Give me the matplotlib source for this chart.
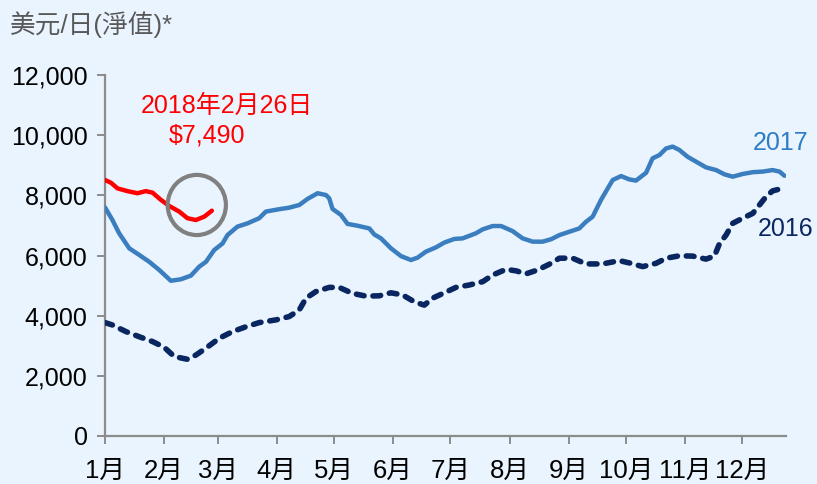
#!/usr/bin/env python3
import matplotlib

matplotlib.use("Agg")
import matplotlib.pyplot as plt
from matplotlib.patches import Ellipse

# day of year, value (US$/day, net)
DAYS_2017 = [0, 3.9, 7.4, 12.7, 17.9, 23.2, 28.4, 34.5, 39.8, 45.0, 49.4, 52.9, 57.2, 61.6,
             64.2, 69.4, 74.7, 80.8, 84.3, 91.3, 96.5, 101.8, 106.1, 111.4, 115.8, 117.5,
             119.2, 123.6, 127.1, 132.3, 138.5, 141.1, 144.6, 149.8, 155.1, 160.3, 163.8,
             168.2, 173.4, 177.8, 183.0, 187.4, 194.4, 197.9, 203.1, 207.5, 213.6, 218.8,
             224.1, 229.3, 233.7, 238.1, 243.3, 248.5, 252.0, 255.5, 259.9, 266.0, 270.4,
             274.7, 278.2, 283.5, 286.9, 290.5, 294.0, 297.4, 300.9, 305.3, 309.7, 314.9,
             320.2, 324.5, 328.9, 334.1, 339.4, 344.6, 349.8, 353.4, 356.0]
VALUES_2017 = [7600, 7180, 6740, 6240, 6020, 5790, 5520, 5160, 5210, 5330, 5630, 5790, 6180,
               6400, 6680, 6960, 7070, 7240, 7460, 7540, 7590, 7680, 7880, 8070, 8010, 7900,
               7550, 7350, 7050, 6990, 6900, 6700, 6570, 6240, 5980, 5850, 5930, 6130, 6270,
               6430, 6550, 6570, 6740, 6870, 6980, 6980, 6810, 6570, 6460, 6460, 6540, 6680,
               6790, 6900, 7120, 7290, 7850, 8510, 8640, 8530, 8490, 8750, 9230, 9340, 9560,
               9620, 9510, 9280, 9120, 8930, 8840, 8700, 8620, 8710, 8770, 8790, 8840, 8790,
               8650]

DAYS_2016 = [0, 3.9, 11.0, 17.9, 24.9, 31.0, 36.3, 43.2, 47.6, 52.9, 59.9, 66.8, 73.8, 80.8,
             89.6, 96.5, 101.8, 105.3, 110.5, 117.5, 122.7, 129.7, 136.7, 143.7, 149.8, 155.9,
             162.1, 167.3, 171.6, 177.8, 183.9, 190.9, 197.9, 203.1, 210.1, 215.4, 220.6,
             226.7, 232.8, 238.1, 245.0, 252.0, 260.7, 269.5, 275.6, 281.7, 288.7, 294.0,
             300.9, 307.9, 314.9, 319.3, 322.0, 325.4, 328.9, 334.1, 339.4, 342.9, 346.4,
             349.8, 353.0]
VALUES_2016 = [3770, 3690, 3470, 3300, 3140, 2950, 2640, 2550, 2690, 2920, 3250, 3470, 3630,
               3770, 3860, 3970, 4190, 4580, 4800, 4940, 4940, 4740, 4650, 4660, 4760, 4690,
               4460, 4350, 4580, 4760, 4940, 5020, 5130, 5350, 5540, 5490, 5390, 5520, 5710,
               5910, 5910, 5720, 5720, 5830, 5740, 5630, 5740, 5910, 5990, 5980, 5880, 5980,
               6400, 6680, 7070, 7240, 7400, 7680, 7960, 8150, 8200]

DAYS_2018 = [0, 3.1, 6.6, 11.8, 17.0, 21.4, 24.9, 29.3, 33.6, 38.9, 43.2, 47.6, 52.0, 56.0]
VALUES_2018 = [8510, 8420, 8230, 8140, 8070, 8140, 8090, 7850, 7650, 7460, 7240, 7180, 7290,
               7490]

MONTH_STARTS = [0, 31, 59, 90, 120, 151, 181, 212, 243, 273, 304, 334]
MONTH_LABELS = ["1月", "2月", "3月", "4月", "5月", "6月", "7月", "8月", "9月", "10月", "11月", "12月"]
Y_TICKS = [0, 2000, 4000, 6000, 8000, 10000, 12000]

BACKGROUND = "#EAF4FE"
BLUE = "#3A7EC0"
NAVY = "#0A2660"
RED = "#FF0000"
AXIS_GRAY = "#8C8C8C"
FONTS = ["Liberation Sans", "Noto Sans CJK TC", "DejaVu Sans"]

plt.rcParams["font.family"] = FONTS

fig = plt.figure(figsize=(8.17, 4.84), dpi=100, facecolor=BACKGROUND)
ax = fig.add_axes([0.1285, 0.0992, 0.834, 0.7458], facecolor=BACKGROUND)

ax.plot(DAYS_2016, VALUES_2016, color=NAVY, lw=4.0, dashes=(1.4, 1.6),
        dash_capstyle="round", solid_capstyle="round", zorder=3)
ax.plot(DAYS_2017, VALUES_2017, color=BLUE, lw=3.2, solid_capstyle="round", zorder=4)
ax.plot(DAYS_2018, VALUES_2018, color=RED, lw=3.2, solid_capstyle="round", zorder=5)

ax.add_patch(Ellipse((48.1, 7680), 30.5, 2000, fill=False, edgecolor="#808080", lw=3.0,
                     zorder=6))

ax.set_xlim(0, 357)
ax.set_ylim(0, 12000)
ax.set_xticks(MONTH_STARTS)
ax.set_xticklabels(MONTH_LABELS)
ax.set_yticks(Y_TICKS)
ax.set_yticklabels([f"{v:,}" for v in Y_TICKS])

for side in ["top", "right"]:
    ax.spines[side].set_visible(False)
for side in ["left", "bottom"]:
    ax.spines[side].set_color(AXIS_GRAY)
    ax.spines[side].set_linewidth(1.6)
ax.tick_params(axis="both", direction="out", length=5.5, width=1.4, color=AXIS_GRAY,
               labelsize=18, labelcolor="black")
ax.tick_params(axis="y", pad=7)
ax.tick_params(axis="x", pad=11, labelsize=18.5)

fig.text(10 / 817, 1 - 25 / 484, "美元/日(淨值)*", fontsize=18.5, color="#595959",
         ha="left", va="center")

ax.annotate("2018年2月26日", xy=(227 / 817, 1 - 106 / 484), xycoords="figure fraction",
            ha="center", va="center", fontsize=18, color=RED)
ax.annotate("$7,490", xy=(207 / 817, 1 - 136 / 484), xycoords="figure fraction",
            ha="center", va="center", fontsize=18, color=RED)
ax.annotate("2017", xy=(781 / 817, 1 - 143 / 484), xycoords="figure fraction",
            ha="center", va="center", fontsize=18, color="#2C7CC6")
ax.annotate("2016", xy=(786 / 817, 1 - 229 / 484), xycoords="figure fraction",
            ha="center", va="center", fontsize=18, color=NAVY)

fig.savefig("out.png", dpi=100, facecolor=BACKGROUND)
